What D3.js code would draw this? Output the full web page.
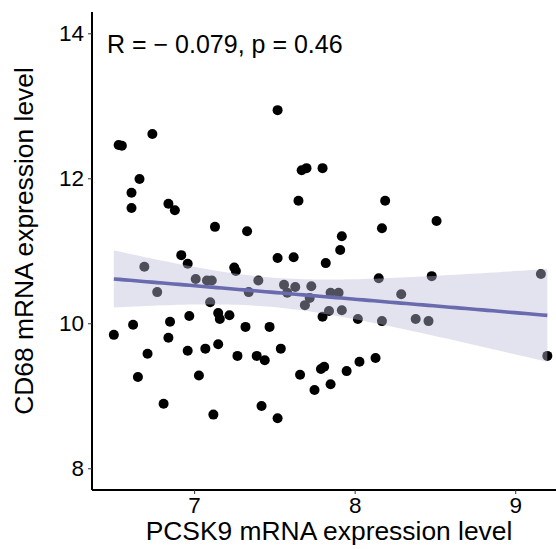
<!DOCTYPE html>
<html>
<head>
<meta charset="utf-8">
<script src="https://cdn.jsdelivr.net/npm/d3@7"></script>
<style>
  body { margin: 0; background: #fff; }
  text { font-family: "Liberation Sans", Arial, sans-serif; }
</style>
</head>
<body>
<svg id="chart"></svg>
<script>
// values
const pcsk9 = [6.53, 6.55, 6.74, 6.66, 6.61, 6.61, 6.84, 6.88, 7.13, 7.33,
    6.92, 6.96, 7.52, 7.67, 7.70, 7.80, 7.65, 8.19, 8.17, 7.92,
    7.91, 7.52, 7.62, 7.82, 8.51, 6.69, 7.25, 7.26, 6.77, 7.01,
    7.08, 7.11, 7.10, 7.34, 7.40, 7.15, 7.16, 7.22, 6.97, 6.85,
    6.62, 6.50, 6.84, 7.32, 6.71, 6.96, 7.07, 7.15, 7.27, 7.39,
    6.65, 7.03, 6.81, 7.12, 7.56, 7.58, 7.63, 7.73, 7.85, 7.90,
    7.72, 7.69, 7.84, 7.80, 7.92, 8.02, 8.15, 8.17, 8.29, 7.47,
    7.54, 7.44, 7.66, 7.79, 7.81, 7.75, 7.85, 7.95, 8.03, 8.13,
    7.42, 7.52, 8.48, 9.16, 8.38, 8.46, 9.20];
const cd68 = [12.46, 12.45, 12.61, 11.99, 11.80, 11.59, 11.65, 11.56, 11.33, 11.27,
    10.94, 10.82, 12.94, 12.11, 12.14, 12.14, 11.69, 11.69, 11.31, 11.20,
    11.01, 10.90, 10.91, 10.83, 11.41, 10.78, 10.77, 10.72, 10.43, 10.61,
    10.59, 10.59, 10.29, 10.43, 10.59, 10.14, 10.06, 10.11, 10.10, 10.02,
    9.98, 9.84, 9.80, 9.95, 9.58, 9.62, 9.65, 9.71, 9.55, 9.55,
    9.26, 9.28, 8.89, 8.74, 10.53, 10.42, 10.50, 10.51, 10.42, 10.42,
    10.35, 10.25, 10.17, 10.09, 10.18, 10.06, 10.62, 10.03, 10.40, 9.95,
    9.65, 9.49, 9.29, 9.37, 9.40, 9.08, 9.16, 9.34, 9.47, 9.52,
    8.86, 8.69, 10.65, 10.68, 10.06, 10.03, 9.55];
const xTicks = [7, 8, 9];
const yTicks = [8, 10, 12, 14];
const statLabel = "R = \u2212 0.079, p = 0.46";
const xTitle = "PCSK9 mRNA expression level";
const yTitle = "CD68 mRNA expression level";

const width = 556, height = 549;
const padLeft = 92, padTop = 12, axisY = 490;

const svg = d3.select("#chart")
    .attr("width", width)
    .attr("height", height);

const x = d3.scaleLinear().domain([6.364, 9.335]).range([padLeft, 569]);
const y = d3.scaleLinear().domain([7.70, 14.294]).range([axisY, padTop]);

const data = pcsk9.map((v, i) => ({ x: v, y: cd68[i] }));

// linear fit with 95% confidence band
const n = data.length;
const mx = d3.mean(data, d => d.x), my = d3.mean(data, d => d.y);
const sxx = d3.sum(data, d => (d.x - mx) ** 2);
const sxy = d3.sum(data, d => (d.x - mx) * (d.y - my));
const slope = sxy / sxx, icpt = my - slope * mx;
const sse = d3.sum(data, d => (d.y - (icpt + slope * d.x)) ** 2);
const se = Math.sqrt(sse / (n - 2));
const tq = 1.987;
const [x0, x1] = d3.extent(pcsk9);
const fit = d3.range(0, 81).map(i => {
    const xv = x0 + (x1 - x0) * i / 80;
    const yh = icpt + slope * xv;
    const w = tq * se * Math.sqrt(1 / n + (xv - mx) ** 2 / sxx);
    return { x: xv, y: yh, lo: yh - w, hi: yh + w };
});

// points
svg.append("g")
    .selectAll("circle")
    .data(data)
    .join("circle")
    .attr("cx", d => x(d.x))
    .attr("cy", d => y(d.y))
    .attr("r", 5)
    .attr("fill", "#000");

// band then line on top
svg.append("path")
    .datum(fit)
    .attr("d", d3.area().x(d => x(d.x)).y0(d => y(d.lo)).y1(d => y(d.hi)))
    .attr("fill", "rgb(188,188,218)")
    .attr("fill-opacity", 0.42);

svg.append("path")
    .datum(fit)
    .attr("d", d3.line().x(d => x(d.x)).y(d => y(d.y)))
    .attr("fill", "none")
    .attr("stroke", "#6a6aae")
    .attr("stroke-width", 3.6);

// axes
const xAxis = svg.append("g")
    .attr("transform", `translate(0,${axisY})`)
    .call(d3.axisBottom(x).tickValues(xTicks).tickFormat(d3.format("d")).tickSizeOuter(0).tickSize(4).tickPadding(3));
const yAxis = svg.append("g")
    .attr("transform", `translate(${padLeft},0)`)
    .call(d3.axisLeft(y).tickValues(yTicks).tickFormat(d3.format("d")).tickSizeOuter(0).tickSize(4).tickPadding(4));

[xAxis, yAxis].forEach(g => {
    g.select(".domain").attr("stroke", "#000").attr("stroke-width", 2);
    g.selectAll(".tick line").attr("stroke", "#333").attr("stroke-width", 1);
    g.selectAll(".tick text")
        .attr("fill", "#000")
        .attr("font-size", 22.5)
        .attr("font-family", "'Liberation Sans', Arial, sans-serif");
});
xAxis.select(".domain").attr("d", `M${padLeft},0H${width}`);
yAxis.select(".domain").attr("d", `M0,${padTop}V${axisY}`);

svg.append("text")
    .attr("x", 107)
    .attr("y", 53)
    .attr("font-size", 25)
    .attr("fill", "#000")
    .text(statLabel);

svg.append("text")
    .attr("x", (145 + 513) / 2)
    .attr("y", 540)
    .attr("text-anchor", "middle")
    .attr("font-size", 26.4)
    .attr("fill", "#000")
    .text(xTitle);

svg.append("text")
    .attr("transform", "translate(33,241) rotate(-90)")
    .attr("text-anchor", "middle")
    .attr("font-size", 26.4)
    .attr("fill", "#000")
    .text(yTitle);
</script>
</body>
</html>
